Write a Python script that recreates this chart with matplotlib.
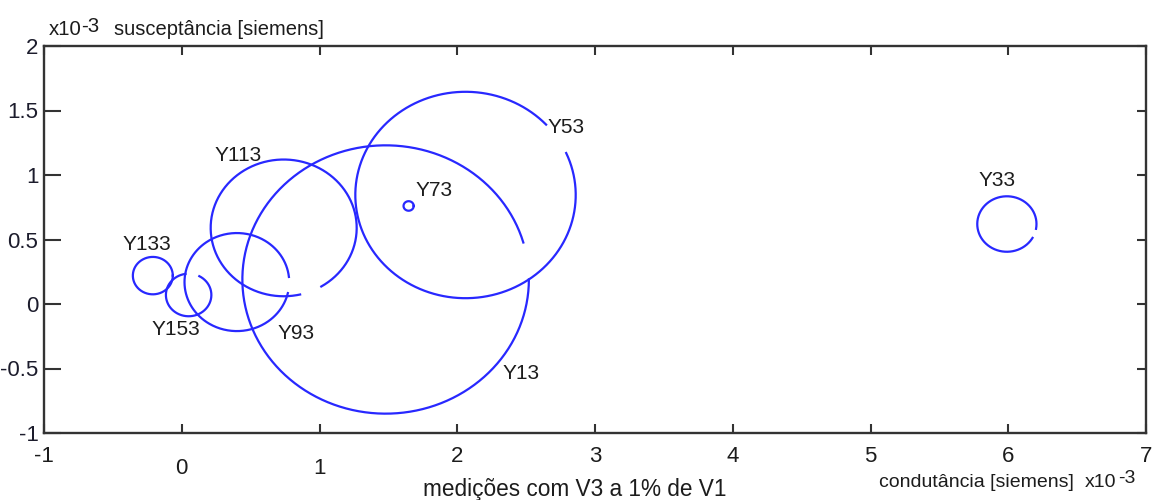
import numpy as np
import matplotlib.pyplot as plt
import matplotlib.transforms as mtransforms
from matplotlib import font_manager

# admittance circles (x1e-3 S): centre conductance, centre susceptance, radius
names = ["Y13", "Y33", "Y53", "Y73", "Y93", "Y113", "Y133", "Y153"]
cond = [1.48, 5.99, 2.06, 1.647, 0.40, 0.74, -0.21, 0.05]
susc = [0.19, 0.62, 0.845, 0.76, 0.17, 0.59, 0.22, 0.07]
radius = [1.04, 0.215, 0.80, 0.037, 0.38, 0.53, 0.145, 0.165]
# open part of each trace (degrees)
gap_from = [0, -30, 24, 0, -13, -77, 0, 62]
gap_to = [16, -10, 43, 0, 6, -59, 0, 98]

xticks = [-1, 0, 1, 2, 3, 4, 5, 6, 7]
yticks = [-1, -0.5, 0, 0.5, 1, 1.5, 2]
xticklabels = ["-1", "0", "1", "2", "3", "4", "5", "6", "7"]
yticklabels = ["-1", "-0.5", "0", "0.5", "1", "1.5", "2"]

# where each name sits
name_pos = {
    "Y13": (2.46, -0.54), "Y33": (5.92, 0.96), "Y53": (2.79, 1.37),
    "Y73": (1.83, 0.88), "Y93": (0.83, -0.23), "Y113": (0.41, 1.155),
    "Y133": (-0.25, 0.465), "Y153": (-0.04, -0.20),
}

installed = {f.name for f in font_manager.fontManager.ttflist}
narrow = "Liberation Sans Narrow" if "Liberation Sans Narrow" in installed else "Liberation Sans"
plt.rcParams["font.family"] = ["Liberation Sans", "DejaVu Sans"]

W, H = 1153, 500
fig = plt.figure(figsize=(W / 100, H / 100), dpi=100)
ax = fig.add_axes([44 / W, 1 - 433 / H, (1146 - 44) / W, (433 - 46) / H])

for cx, cy, r, g0, g1 in zip(cond, susc, radius, gap_from, gap_to):
    t = np.radians(np.linspace(g1, g0 + 360, 400))
    ax.plot(cx + r * np.cos(t), cy + r * np.sin(t), color="#2828ff", lw=1.6)

for n in names:
    x, y = name_pos[n]
    ax.text(x, y, n, ha="center", va="center", fontsize=15,
            family=narrow, color="#1c1c1c")

ax.set_xlim(-1, 7)
ax.set_ylim(-1, 2)
ax.set_xticks(xticks)
ax.set_yticks(yticks)
ax.set_xticklabels(xticklabels, family=narrow, fontsize=16, color="#1c1c1c")
ax.set_yticklabels(yticklabels, family=narrow, fontsize=16, color="#1c1c2c")
ax.tick_params(direction="in", top=True, right=True, length=6.5, width=1.5,
               color="#333333")
ax.tick_params(axis="x", pad=9)
ax.tick_params(axis="y", pad=4)
for tk in ax.yaxis.get_major_ticks():
    tk.tick1line.set_markersize(12)
# the "0" and "1" labels sit a little lower than the rest
drop = mtransforms.ScaledTranslation(0, -0.12, fig.dpi_scale_trans)
for lab in ax.get_xticklabels()[1:3]:
    lab.set_transform(lab.get_transform() + drop)
for sp in ax.spines.values():
    sp.set_color("#333333")
    sp.set_linewidth(1.7)

# axis captions with the x10-3 multiplier
def px(x, y, s, **kw):
    fig.text(x / W, 1 - y / H, s, va="baseline", color="#1c1c1c", **kw)

px(49, 35, "x10", fontsize=14.7)
px(81, 32, "-3", fontsize=14.7)
px(114, 35, "susceptância [siemens]", fontsize=14.5)
px(879, 487, "condutância [siemens]", fontsize=14)
px(1085, 487, "x10", fontsize=14)
px(1118, 483, "-3", fontsize=14)
px(423, 496, "medições com V3 a 1% de V1", fontsize=16.3)

fig.savefig("out.png", dpi=100)
